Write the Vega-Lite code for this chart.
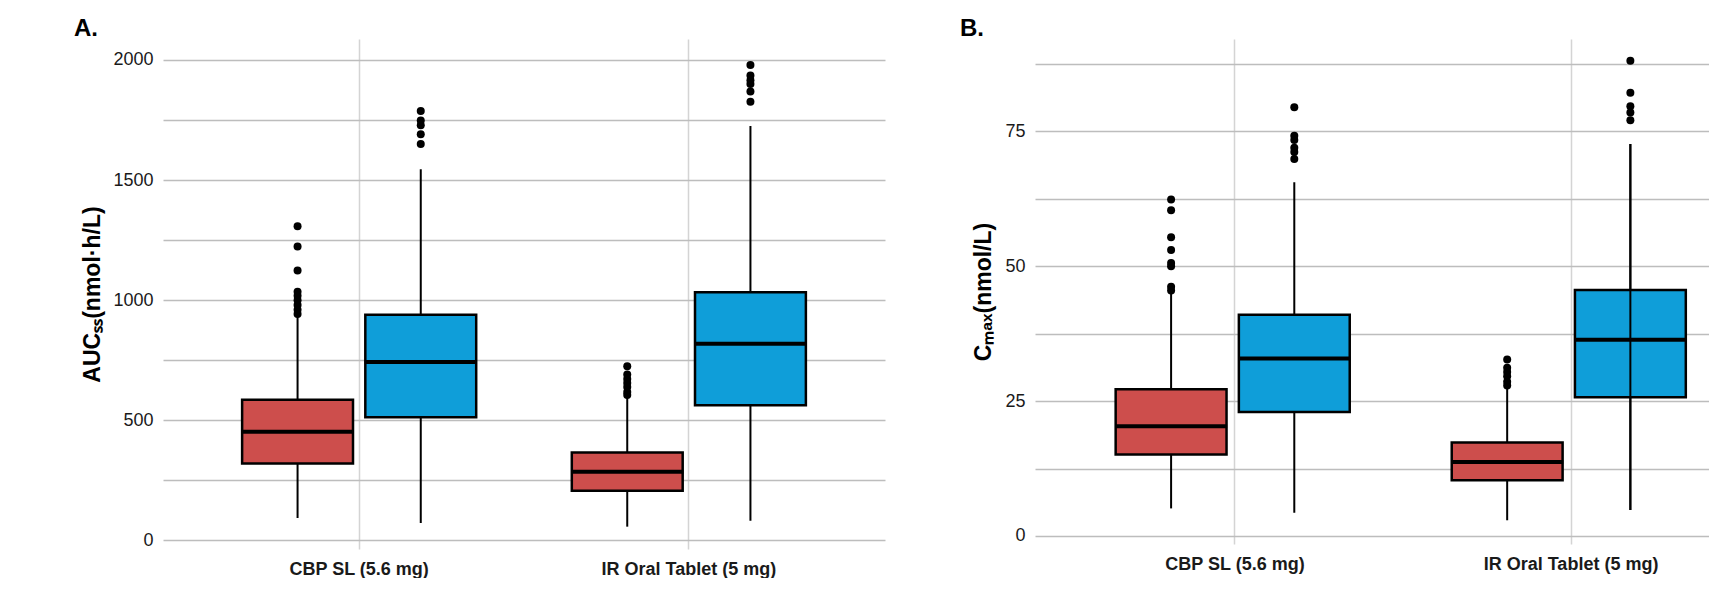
{
  "$schema": "https://vega.github.io/schema/vega-lite/v6.json",
  "background": "white",
  "padding": {"left": 73, "top": 17, "right": 0, "bottom": 0},
  "spacing": 74,
  "config": {
    "view": {"stroke": null},
    "font": "Liberation Sans",
    "axis": {"domain": false, "ticks": false, "labelFont": "Liberation Sans", "labelColor": "#1a1a1a", "titleFont": "Liberation Sans", "titleColor": "#000000", "labelLimit": 0},
    "title": {"font": "Liberation Sans", "fontWeight": "bold", "fontSize": 24, "anchor": "start", "baseline": "alphabetic", "color": "#000000"}
  },
  "datasets": {
    "aBox": [
      {"form": "CBP SL (5.6 mg)", "group": "Group 1", "lower": 93, "q1": 320, "median": 452, "q3": 585, "upper": 935},
      {"form": "CBP SL (5.6 mg)", "group": "Group 2", "lower": 72, "q1": 512, "median": 742, "q3": 939, "upper": 1545},
      {"form": "IR Oral Tablet (5 mg)", "group": "Group 1", "lower": 57, "q1": 207, "median": 286, "q3": 366, "upper": 598},
      {"form": "IR Oral Tablet (5 mg)", "group": "Group 2", "lower": 82, "q1": 562, "median": 818, "q3": 1033, "upper": 1725}
    ],
    "aOut": [
      {"form": "CBP SL (5.6 mg)", "group": "Group 1", "value": 1308},
      {"form": "CBP SL (5.6 mg)", "group": "Group 1", "value": 1223},
      {"form": "CBP SL (5.6 mg)", "group": "Group 1", "value": 1123},
      {"form": "CBP SL (5.6 mg)", "group": "Group 1", "value": 1035},
      {"form": "CBP SL (5.6 mg)", "group": "Group 1", "value": 1018},
      {"form": "CBP SL (5.6 mg)", "group": "Group 1", "value": 1000},
      {"form": "CBP SL (5.6 mg)", "group": "Group 1", "value": 980},
      {"form": "CBP SL (5.6 mg)", "group": "Group 1", "value": 960},
      {"form": "CBP SL (5.6 mg)", "group": "Group 1", "value": 942},
      {"form": "CBP SL (5.6 mg)", "group": "Group 2", "value": 1787},
      {"form": "CBP SL (5.6 mg)", "group": "Group 2", "value": 1748},
      {"form": "CBP SL (5.6 mg)", "group": "Group 2", "value": 1728},
      {"form": "CBP SL (5.6 mg)", "group": "Group 2", "value": 1690},
      {"form": "CBP SL (5.6 mg)", "group": "Group 2", "value": 1650},
      {"form": "IR Oral Tablet (5 mg)", "group": "Group 1", "value": 725},
      {"form": "IR Oral Tablet (5 mg)", "group": "Group 1", "value": 690},
      {"form": "IR Oral Tablet (5 mg)", "group": "Group 1", "value": 672},
      {"form": "IR Oral Tablet (5 mg)", "group": "Group 1", "value": 655},
      {"form": "IR Oral Tablet (5 mg)", "group": "Group 1", "value": 638},
      {"form": "IR Oral Tablet (5 mg)", "group": "Group 1", "value": 618},
      {"form": "IR Oral Tablet (5 mg)", "group": "Group 1", "value": 605},
      {"form": "IR Oral Tablet (5 mg)", "group": "Group 2", "value": 1979},
      {"form": "IR Oral Tablet (5 mg)", "group": "Group 2", "value": 1935},
      {"form": "IR Oral Tablet (5 mg)", "group": "Group 2", "value": 1915},
      {"form": "IR Oral Tablet (5 mg)", "group": "Group 2", "value": 1900},
      {"form": "IR Oral Tablet (5 mg)", "group": "Group 2", "value": 1868},
      {"form": "IR Oral Tablet (5 mg)", "group": "Group 2", "value": 1826}
    ],
    "bBox": [
      {"form": "CBP SL (5.6 mg)", "group": "Group 1", "lower": 5.1, "q1": 15.1, "median": 20.35, "q3": 27.2, "upper": 45.2},
      {"form": "CBP SL (5.6 mg)", "group": "Group 2", "lower": 4.3, "q1": 23.0, "median": 32.9, "q3": 41.0, "upper": 65.6},
      {"form": "IR Oral Tablet (5 mg)", "group": "Group 1", "lower": 2.9, "q1": 10.3, "median": 13.7, "q3": 17.3, "upper": 27.5},
      {"form": "IR Oral Tablet (5 mg)", "group": "Group 2", "lower": 4.8, "q1": 25.7, "median": 36.4, "q3": 45.6, "upper": 72.7}
    ],
    "bOut": [
      {"form": "CBP SL (5.6 mg)", "group": "Group 1", "value": 62.4},
      {"form": "CBP SL (5.6 mg)", "group": "Group 1", "value": 60.4},
      {"form": "CBP SL (5.6 mg)", "group": "Group 1", "value": 55.4},
      {"form": "CBP SL (5.6 mg)", "group": "Group 1", "value": 53.0},
      {"form": "CBP SL (5.6 mg)", "group": "Group 1", "value": 50.6},
      {"form": "CBP SL (5.6 mg)", "group": "Group 1", "value": 50.0},
      {"form": "CBP SL (5.6 mg)", "group": "Group 1", "value": 46.2},
      {"form": "CBP SL (5.6 mg)", "group": "Group 1", "value": 45.5},
      {"form": "CBP SL (5.6 mg)", "group": "Group 2", "value": 79.5},
      {"form": "CBP SL (5.6 mg)", "group": "Group 2", "value": 74.2},
      {"form": "CBP SL (5.6 mg)", "group": "Group 2", "value": 73.4},
      {"form": "CBP SL (5.6 mg)", "group": "Group 2", "value": 72.0},
      {"form": "CBP SL (5.6 mg)", "group": "Group 2", "value": 71.2},
      {"form": "CBP SL (5.6 mg)", "group": "Group 2", "value": 69.9},
      {"form": "IR Oral Tablet (5 mg)", "group": "Group 1", "value": 32.7},
      {"form": "IR Oral Tablet (5 mg)", "group": "Group 1", "value": 31.2},
      {"form": "IR Oral Tablet (5 mg)", "group": "Group 1", "value": 30.4},
      {"form": "IR Oral Tablet (5 mg)", "group": "Group 1", "value": 29.6},
      {"form": "IR Oral Tablet (5 mg)", "group": "Group 1", "value": 28.6},
      {"form": "IR Oral Tablet (5 mg)", "group": "Group 1", "value": 27.9},
      {"form": "IR Oral Tablet (5 mg)", "group": "Group 2", "value": 88.1},
      {"form": "IR Oral Tablet (5 mg)", "group": "Group 2", "value": 82.2},
      {"form": "IR Oral Tablet (5 mg)", "group": "Group 2", "value": 79.7},
      {"form": "IR Oral Tablet (5 mg)", "group": "Group 2", "value": 78.5},
      {"form": "IR Oral Tablet (5 mg)", "group": "Group 2", "value": 77.1}
    ]
  },
  "hconcat": [
    {
      "width": 722,
      "height": 510,
      "title": {"text": "A.", "dx": -8, "offset": -2},
      "encoding": {
        "x": {"field": "form", "type": "nominal", "sort": ["CBP SL (5.6 mg)", "IR Oral Tablet (5 mg)"], "title": null,
              "scale": {"type": "band", "paddingInner": 0.29, "paddingOuter": 0.24},
              "axis": {"grid": true, "gridColor": "#D4D4D4", "gridWidth": 1.5, "bandPosition": 0.5, "labelAngle": 0, "labelFontSize": 18, "labelFontWeight": "bold", "labelPadding": 11}},
        "xOffset": {"field": "group", "type": "nominal", "sort": ["Group 1", "Group 2"], "scale": {"paddingInner": 0.1, "paddingOuter": 0}}
      },
      "layer": [
        {
          "data": {"name": "aBox"},
          "mark": {"type": "rule", "color": "black", "strokeWidth": 2},
          "encoding": {
            "y": {"field": "lower", "type": "quantitative", "title": "AUCₛₛ(nmol·h/L)",
                  "scale": {"domain": [-36, 2087], "nice": false, "zero": false},
                  "axis": {"values": [0, 250, 500, 750, 1000, 1250, 1500, 1750, 2000], "format": "d", "labelExpr": "datum.value % 500 === 0 ? datum.label : ''", "grid": true, "gridColor": "#BDBDBD", "gridWidth": 1.5, "labelFontSize": 18, "labelPadding": 10, "titleFontSize": 23, "titleFontWeight": "bold", "titlePadding": 8}},
            "y2": {"field": "upper"}
          }
        },
        {
          "data": {"name": "aBox"},
          "mark": {"type": "bar", "stroke": "black", "strokeWidth": 2.5, "opacity": 1},
          "encoding": {
            "y": {"field": "q1", "type": "quantitative", "title": "AUCₛₛ(nmol·h/L)"},
            "y2": {"field": "q3"},
            "color": {"field": "group", "type": "nominal", "legend": null, "scale": {"domain": ["Group 1", "Group 2"], "range": ["#CD4E4C", "#0F9ED9"]}}
          }
        },
        {
          "data": {"name": "aBox"},
          "mark": {"type": "tick", "color": "black", "size": 112, "thickness": 4, "opacity": 1},
          "encoding": {
            "y": {"field": "median", "type": "quantitative", "title": "AUCₛₛ(nmol·h/L)"}
          }
        },
        {
          "data": {"name": "aOut"},
          "mark": {"type": "circle", "color": "black", "size": 64, "opacity": 1},
          "encoding": {
            "y": {"field": "value", "type": "quantitative", "title": "AUCₛₛ(nmol·h/L)"}
          }
        }
      ]
    },
    {
      "width": 674,
      "height": 505,
      "title": {"text": "B.", "dx": -13, "offset": -2},
      "encoding": {
        "x": {"field": "form", "type": "nominal", "sort": ["CBP SL (5.6 mg)", "IR Oral Tablet (5 mg)"], "title": null,
              "scale": {"type": "band", "paddingInner": 0.29, "paddingOuter": 0.24, "range": [0, 736]},
              "axis": {"grid": true, "gridColor": "#D4D4D4", "gridWidth": 1.5, "bandPosition": 0.5, "labelAngle": 0, "labelFontSize": 18, "labelFontWeight": "bold", "labelPadding": 11}},
        "xOffset": {"field": "group", "type": "nominal", "sort": ["Group 1", "Group 2"], "scale": {"paddingInner": 0.1, "paddingOuter": 0}}
      },
      "layer": [
        {
          "data": {"name": "bBox"},
          "mark": {"type": "rule", "color": "black", "strokeWidth": 2},
          "encoding": {
            "y": {"field": "lower", "type": "quantitative", "title": "Cₘₐₓ(nmol/L)",
                  "scale": {"domain": [-1.5, 92.15], "nice": false, "zero": false},
                  "axis": {"values": [0, 12.5, 25, 37.5, 50, 62.5, 75, 87.5], "labelExpr": "datum.value % 25 === 0 ? datum.label : ''", "grid": true, "gridColor": "#BDBDBD", "gridWidth": 1.5, "labelFontSize": 18, "labelPadding": 10, "titleFontSize": 23, "titleFontWeight": "bold", "titlePadding": 9}},
            "y2": {"field": "upper"}
          }
        },
        {
          "data": {"name": "bBox"},
          "mark": {"type": "bar", "stroke": "black", "strokeWidth": 2.5, "opacity": 1},
          "encoding": {
            "y": {"field": "q1", "type": "quantitative", "title": "Cₘₐₓ(nmol/L)"},
            "y2": {"field": "q3"},
            "color": {"field": "group", "type": "nominal", "legend": null, "scale": {"domain": ["Group 1", "Group 2"], "range": ["#CD4E4C", "#0F9ED9"]}}
          }
        },
        {
          "data": {"name": "bBox"},
          "transform": [{"filter": "datum.form === 'IR Oral Tablet (5 mg)' && datum.group === 'Group 2'"}],
          "mark": {"type": "rule", "color": "black", "strokeWidth": 2},
          "encoding": {
            "y": {"field": "lower", "type": "quantitative", "title": "Cₘₐₓ(nmol/L)"},
            "y2": {"field": "upper"}
          }
        },
        {
          "data": {"name": "bBox"},
          "mark": {"type": "tick", "color": "black", "size": 112, "thickness": 4, "opacity": 1},
          "encoding": {
            "y": {"field": "median", "type": "quantitative", "title": "Cₘₐₓ(nmol/L)"}
          }
        },
        {
          "data": {"name": "bOut"},
          "mark": {"type": "circle", "color": "black", "size": 64, "opacity": 1},
          "encoding": {
            "y": {"field": "value", "type": "quantitative", "title": "Cₘₐₓ(nmol/L)"}
          }
        }
      ]
    }
  ]
}
